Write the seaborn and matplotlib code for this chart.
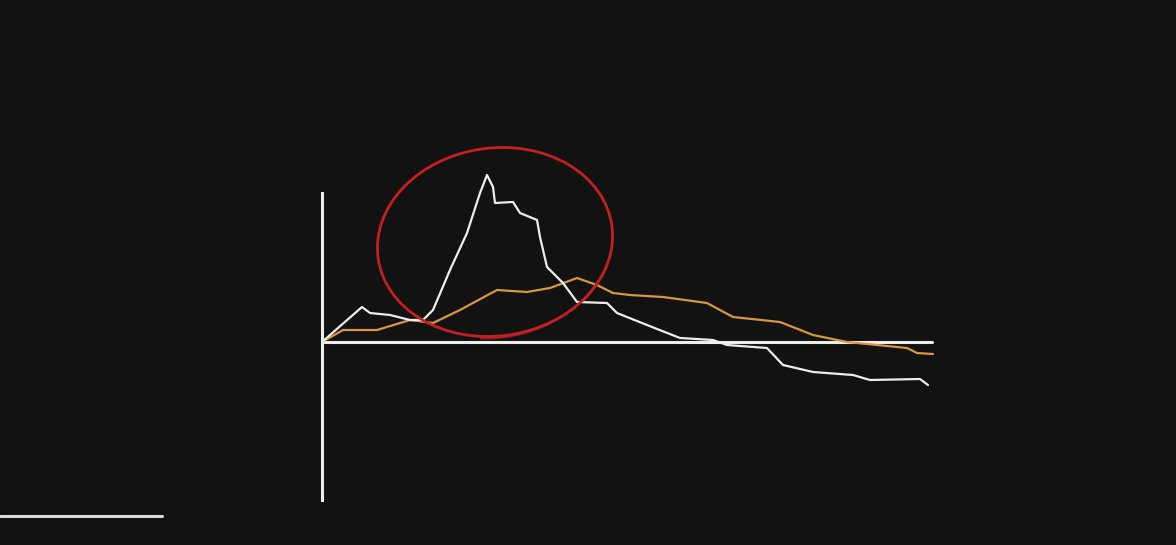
"""Sketch-style comparison of two curves with a highlighted spike."""

import matplotlib
matplotlib.use("Agg")
import matplotlib.pyplot as plt
from matplotlib.lines import Line2D
from matplotlib.patches import Ellipse, Arc
import pandas as pd
import seaborn as sns

# ---------------------------------------------------------------------------
# Data
# ---------------------------------------------------------------------------
white_x = [0, 40, 48, 68, 88, 101, 111, 128, 145, 158, 165, 171, 173, 191,
           198, 215, 218, 225, 241, 255, 285, 295, 325, 358, 391, 405, 445,
           461, 491, 531, 548, 598, 606]
white_y = [0, 35, 29, 27, 22, 22, 32, 72, 109, 149, 167, 155, 139, 140,
           129, 122, 105, 75, 59, 40, 39, 29, 17, 4, 2, -3, -6,
           -23, -30, -33, -38, -37, -43]

orange_x = [0, 21, 55, 88, 111, 138, 175, 205, 228, 255, 275, 291, 308,
            341, 385, 411, 458, 491, 525, 585, 595, 611]
orange_y = [0, 12, 12, 22, 19, 32, 52, 50, 54, 64, 57, 49, 47,
            45, 39, 25, 20, 7, 0, -6, -11, -12]

BG = "#121212"
WHITE = "#ededed"
ORANGE = "#d8963f"
RED = "#c42020"

df = pd.concat([
    pd.DataFrame({"x": white_x, "y": white_y, "series": "white"}),
    pd.DataFrame({"x": orange_x, "y": orange_y, "series": "orange"}),
])

sns.set_style("dark", {"axes.facecolor": BG, "figure.facecolor": BG})

fig = plt.figure(figsize=(11.76, 5.45), dpi=100)
fig.patch.set_facecolor(BG)
ax = fig.add_axes([322 / 1176, 40 / 545, 618 / 1176, 365 / 545])
ax.set_facecolor(BG)

sns.lineplot(
    data=df, x="x", y="y", hue="series",
    palette={"white": WHITE, "orange": ORANGE},
    hue_order=["orange", "white"],
    linewidth=1.6, sort=False, estimator=None, legend=False, ax=ax,
)

ax.set_xlim(0, 618)
ax.set_ylim(-163, 202)

# axes drawn as a sketch: vertical line + zero line
for side in ["top", "right", "bottom"]:
    ax.spines[side].set_visible(False)
ax.spines["left"].set_color(WHITE)
ax.spines["left"].set_linewidth(2.2)
ax.spines["left"].set_bounds(-158, 149)
ax.axhline(0, xmin=0, xmax=610 / 618, color=WHITE, linewidth=2.2, zorder=1)

ax.set_xticks([])
ax.set_yticks([])
ax.set_xlabel("")
ax.set_ylabel("")

# red highlight circle round the spike
ax.add_patch(Ellipse((173, 100), width=236, height=188, angle=8,
                     fill=False, edgecolor=RED, linewidth=2.0, zorder=3))
ax.add_patch(Arc((176, 97), width=232, height=184, angle=14,
                 theta1=245, theta2=345, edgecolor=RED, linewidth=1.4,
                 alpha=0.7, zorder=3))

# leftover stroke bottom-left
fig.add_artist(Line2D([0, 162 / 1176], [29 / 545, 29 / 545],
                      color="#d8d8d8", linewidth=2.2))

fig.savefig("out.png", dpi=100, facecolor=BG)
